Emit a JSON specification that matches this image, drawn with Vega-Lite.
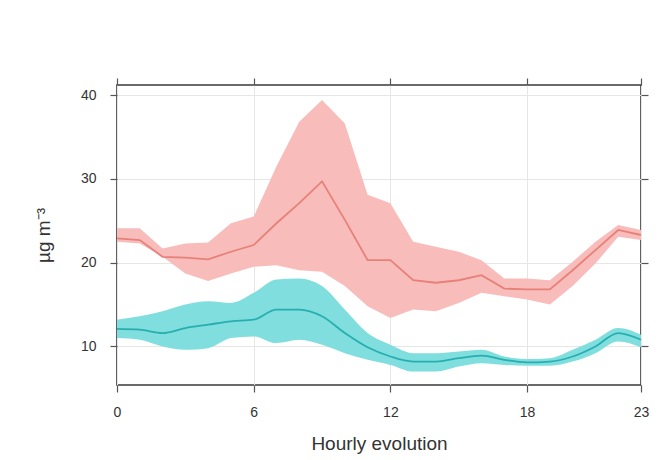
{
  "$schema": "https://vega.github.io/schema/vega-lite/v6.json",
  "autosize": "none",
  "width": 524,
  "height": 300,
  "padding": {"left": 117, "top": 85, "right": 20, "bottom": 75},
  "background": "white",
  "config": {
    "font": "Liberation Sans",
    "view": {"stroke": "#3a3a3a", "strokeWidth": 1.6},
    "axis": {
      "domain": false,
      "tickColor": "#555555",
      "tickWidth": 1.2,
      "tickSize": 7,
      "labelColor": "#333333",
      "labelFontSize": 14,
      "labelFlush": false,
      "titleColor": "#333333",
      "titleFontSize": 19,
      "titleFontWeight": "normal",
      "gridColor": "#e6e6e6",
      "gridWidth": 1
    }
  },
  "data": {
    "values": [
      {"hour": 0, "series": "red", "mean": 22.9, "lower": 22.5, "upper": 24.1},
      {"hour": 1, "series": "red", "mean": 22.7, "lower": 22.3, "upper": 24.1},
      {"hour": 2, "series": "red", "mean": 20.7, "lower": 20.7, "upper": 21.7},
      {"hour": 3, "series": "red", "mean": 20.6, "lower": 18.7, "upper": 22.3},
      {"hour": 4, "series": "red", "mean": 20.4, "lower": 17.8, "upper": 22.4},
      {"hour": 5, "series": "red", "mean": 21.3, "lower": 18.7, "upper": 24.7},
      {"hour": 6, "series": "red", "mean": 22.1, "lower": 19.5, "upper": 25.5},
      {"hour": 7, "series": "red", "mean": 24.7, "lower": 19.7, "upper": 31.5},
      {"hour": 8, "series": "red", "mean": 27.1, "lower": 19.1, "upper": 36.8},
      {"hour": 9, "series": "red", "mean": 29.7, "lower": 18.9, "upper": 39.4},
      {"hour": 10, "series": "red", "mean": 25.1, "lower": 17.2, "upper": 36.6},
      {"hour": 11, "series": "red", "mean": 20.3, "lower": 14.8, "upper": 28.1},
      {"hour": 12, "series": "red", "mean": 20.3, "lower": 13.4, "upper": 27.1},
      {"hour": 13, "series": "red", "mean": 17.9, "lower": 14.4, "upper": 22.5},
      {"hour": 14, "series": "red", "mean": 17.6, "lower": 14.2, "upper": 21.9},
      {"hour": 15, "series": "red", "mean": 17.9, "lower": 15.2, "upper": 21.3},
      {"hour": 16, "series": "red", "mean": 18.5, "lower": 16.4, "upper": 20.3},
      {"hour": 17, "series": "red", "mean": 16.9, "lower": 16.0, "upper": 18.1},
      {"hour": 18, "series": "red", "mean": 16.8, "lower": 15.6, "upper": 18.1},
      {"hour": 19, "series": "red", "mean": 16.8, "lower": 15.0, "upper": 17.9},
      {"hour": 20, "series": "red", "mean": 19.1, "lower": 17.2, "upper": 20.1},
      {"hour": 21, "series": "red", "mean": 21.5, "lower": 19.9, "upper": 22.5},
      {"hour": 22, "series": "red", "mean": 23.9, "lower": 23.1, "upper": 24.5},
      {"hour": 23, "series": "red", "mean": 23.3, "lower": 22.7, "upper": 23.9},
      {"hour": 0, "series": "cyan", "mean": 12.1, "lower": 11.0, "upper": 13.2},
      {"hour": 1, "series": "cyan", "mean": 12.0, "lower": 10.8, "upper": 13.6},
      {"hour": 2, "series": "cyan", "mean": 11.6, "lower": 10.0, "upper": 14.2},
      {"hour": 3, "series": "cyan", "mean": 12.2, "lower": 9.6, "upper": 15.0},
      {"hour": 4, "series": "cyan", "mean": 12.6, "lower": 9.8, "upper": 15.4},
      {"hour": 5, "series": "cyan", "mean": 13.0, "lower": 11.0, "upper": 15.2},
      {"hour": 6, "series": "cyan", "mean": 13.2, "lower": 11.2, "upper": 16.4},
      {"hour": 7, "series": "cyan", "mean": 14.4, "lower": 10.4, "upper": 18.0},
      {"hour": 8, "series": "cyan", "mean": 14.4, "lower": 10.8, "upper": 18.1},
      {"hour": 9, "series": "cyan", "mean": 13.6, "lower": 10.2, "upper": 17.2},
      {"hour": 10, "series": "cyan", "mean": 11.6, "lower": 9.2, "upper": 14.4},
      {"hour": 11, "series": "cyan", "mean": 9.9, "lower": 8.4, "upper": 11.6},
      {"hour": 12, "series": "cyan", "mean": 8.8, "lower": 7.8, "upper": 10.2},
      {"hour": 13, "series": "cyan", "mean": 8.2, "lower": 7.0, "upper": 9.2},
      {"hour": 14, "series": "cyan", "mean": 8.2, "lower": 7.0, "upper": 9.2},
      {"hour": 15, "series": "cyan", "mean": 8.6, "lower": 7.6, "upper": 9.4},
      {"hour": 16, "series": "cyan", "mean": 8.9, "lower": 8.0, "upper": 9.6},
      {"hour": 17, "series": "cyan", "mean": 8.4, "lower": 7.8, "upper": 8.8},
      {"hour": 18, "series": "cyan", "mean": 8.1, "lower": 7.7, "upper": 8.5},
      {"hour": 19, "series": "cyan", "mean": 8.2, "lower": 7.7, "upper": 8.6},
      {"hour": 20, "series": "cyan", "mean": 8.8, "lower": 8.2, "upper": 9.6},
      {"hour": 21, "series": "cyan", "mean": 10.0, "lower": 9.2, "upper": 10.8},
      {"hour": 22, "series": "cyan", "mean": 11.6, "lower": 10.6, "upper": 12.2},
      {"hour": 23, "series": "cyan", "mean": 10.8, "lower": 9.9, "upper": 11.4}
    ]
  },
  "layer": [
    {
      "transform": [{"filter": "datum.series === 'red'"}],
      "mark": {"type": "area", "opacity": 1},
      "encoding": {
        "x": {
          "field": "hour", "type": "quantitative",
          "scale": {"domain": [0, 23], "nice": false},
          "axis": {"orient": "bottom", "values": [0, 6, 12, 18, 23], "title": "Hourly evolution", "labelPadding": 13, "titlePadding": 15, "grid": true}
        },
        "y": {
          "field": "upper", "type": "quantitative",
          "scale": {"domain": [5.4, 41.2], "nice": false, "zero": false},
          "axis": {"orient": "left", "values": [10, 20, 30, 40], "title": "µg m⁻³", "labelPadding": 14, "titlePadding": 27, "grid": true}
        },
        "y2": {"field": "lower"},
        "fill": {
          "field": "series", "type": "nominal",
          "scale": {"domain": ["red", "cyan"], "range": ["#F8BDBA", "#80DEDE"]},
          "legend": null
        }
      }
    },
    {
      "transform": [{"filter": "datum.series === 'cyan'"}],
      "mark": {"type": "area", "opacity": 1, "interpolate": "monotone"},
      "encoding": {
        "x": {"field": "hour", "type": "quantitative", "axis": null},
        "y": {"field": "upper", "type": "quantitative", "axis": null},
        "y2": {"field": "lower"},
        "fill": {"field": "series", "type": "nominal", "legend": null}
      }
    },
    {
      "transform": [{"filter": "datum.series === 'red'"}],
      "mark": {"type": "line", "strokeWidth": 1.8},
      "encoding": {
        "x": {
          "field": "hour", "type": "quantitative",
          "axis": {"orient": "top", "values": [0, 6, 12, 18, 23], "labels": false, "title": null, "grid": false}
        },
        "y": {
          "field": "mean", "type": "quantitative",
          "axis": {"orient": "right", "values": [10, 20, 30, 40], "labels": false, "title": null, "grid": false}
        },
        "stroke": {
          "field": "series", "type": "nominal",
          "scale": {"domain": ["red", "cyan"], "range": ["#E8807A", "#27AFB0"]},
          "legend": null
        }
      }
    },
    {
      "transform": [{"filter": "datum.series === 'cyan'"}],
      "mark": {"type": "line", "strokeWidth": 1.8, "interpolate": "monotone"},
      "encoding": {
        "x": {"field": "hour", "type": "quantitative", "axis": null},
        "y": {"field": "mean", "type": "quantitative", "axis": null},
        "stroke": {"field": "series", "type": "nominal", "legend": null}
      }
    }
  ],
  "resolve": {"axis": {"x": "independent", "y": "independent"}}
}
